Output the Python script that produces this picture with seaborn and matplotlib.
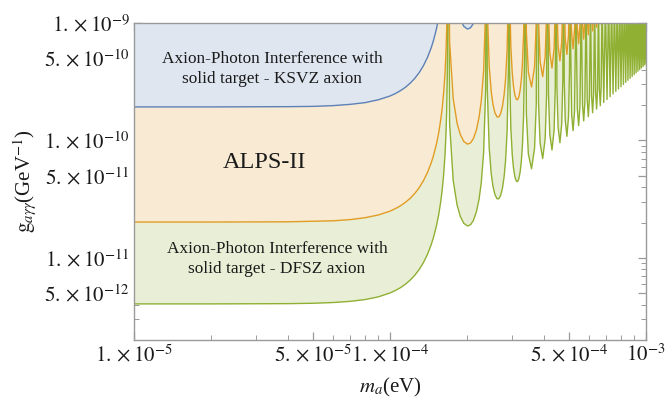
import matplotlib
matplotlib.use('Agg')
import matplotlib.pyplot as plt
from matplotlib.ticker import FixedLocator, FixedFormatter, LogLocator, NullFormatter
import seaborn as sns

# axion mass grid (eV), shared by the three curves
mass_ev = [
    # flat part and first rise
    1.0e-5, 2.0e-5, 4.0e-5, 5.0e-5, 6.0e-5, 7.0e-5, 8.0e-5, 9.0e-5, 1.0e-4, 1.05e-4,
    1.1e-4, 1.15e-4, 1.2e-4, 1.25e-4, 1.3e-4, 1.35e-4, 1.4e-4, 1.45e-4, 1.48e-4, 1.52e-4,
    1.55e-4, 1.58e-4, 1.6e-4, 1.62e-4, 1.64e-4, 1.655e-4, 1.665e-4, 1.675e-4, 1.684e-4,
    # lobe 1
    1.7091e-4, 1.7662e-4, 1.8293e-4, 1.8828e-4, 1.9421e-4, 2.0067e-4, 2.0625e-4,
    2.1168e-4, 2.1762e-4, 2.2277e-4, 2.2718e-4, 2.3212e-4, 2.3636e-4, 2.3815e-4,
    # lobe 2
    2.3993e-4, 2.4404e-4, 2.4864e-4, 2.5260e-4, 2.5705e-4, 2.6197e-4, 2.6626e-4,
    2.7049e-4, 2.7517e-4, 2.7926e-4, 2.8279e-4, 2.8678e-4, 2.9021e-4, 2.9168e-4,
    # lobe 3
    2.9313e-4, 2.9650e-4, 3.0030e-4, 3.0359e-4, 3.0730e-4, 3.1143e-4, 3.1505e-4,
    3.1863e-4, 3.2261e-4, 3.2611e-4, 3.2913e-4, 3.3256e-4, 3.3554e-4, 3.3680e-4,
    # lobes 4 - 8
    3.4099e-4, 3.4716e-4, 3.5723e-4, 3.6702e-4, 3.7277e-4, 3.7655e-4,
    3.8030e-4, 3.8585e-4, 3.9493e-4, 4.0381e-4, 4.0904e-4, 4.1249e-4,
    4.1592e-4, 4.2100e-4, 4.2934e-4, 4.3752e-4, 4.4235e-4, 4.4554e-4,
    4.4872e-4, 4.5343e-4, 4.6118e-4, 4.6881e-4, 4.7332e-4, 4.7631e-4,
    4.7928e-4, 4.8369e-4, 4.9097e-4, 4.9813e-4, 5.0239e-4, 5.0520e-4,
    # lobes 9 - 15
    5.1217e-4, 5.1904e-4, 5.2583e-4, 5.3253e-4,
    5.3914e-4, 5.4568e-4, 5.5214e-4, 5.5852e-4,
    5.6483e-4, 5.7107e-4, 5.7725e-4, 5.8335e-4,
    5.8940e-4, 5.9538e-4, 6.0131e-4, 6.0717e-4,
    6.1298e-4, 6.1874e-4, 6.2444e-4, 6.3010e-4,
    6.3570e-4, 6.4125e-4, 6.4675e-4, 6.5221e-4,
    6.5762e-4, 6.6299e-4, 6.6832e-4, 6.7360e-4,
    # lobes 16 - 35 (dip, cusp)
    6.8404e-4, 6.9433e-4, 7.0447e-4, 7.1446e-4, 7.2432e-4, 7.3404e-4, 7.4363e-4, 7.5311e-4,
    7.6246e-4, 7.7171e-4, 7.8084e-4, 7.8987e-4, 7.9879e-4, 8.0762e-4, 8.1635e-4, 8.2499e-4,
    8.3354e-4, 8.4200e-4, 8.5038e-4, 8.5868e-4, 8.6689e-4, 8.7503e-4, 8.8310e-4, 8.9109e-4,
    8.9901e-4, 9.0686e-4, 9.1465e-4, 9.2237e-4, 9.3002e-4, 9.3761e-4, 9.4514e-4, 9.5261e-4,
    9.6003e-4, 9.6738e-4, 9.7469e-4, 9.8193e-4, 9.8913e-4, 9.9627e-4, 1.0034e-3,
]

# DFSZ axion, solid target (green)
g_green = [
    4.06e-12, 4.06e-12, 4.08e-12, 4.11e-12, 4.17e-12, 4.27e-12, 4.42e-12, 4.66e-12, 5.03e-12, 5.28e-12,
    5.59e-12, 5.98e-12, 6.48e-12, 7.12e-12, 7.96e-12, 9.10e-12, 1.068e-11, 1.303e-11, 1.503e-11, 1.890e-11,
    2.339e-11, 3.057e-11, 3.827e-11, 5.083e-11, 7.497e-11, 1.150e-10, 1.770e-10, 3.762e-10, 5e-8,
    1.396e-10, 4.540e-11, 2.809e-11, 2.255e-11, 1.971e-11, 1.870e-11, 1.913e-11,
    2.081e-11, 2.475e-11, 3.157e-11, 4.332e-11, 7.842e-11, 2.670e-10, 5e-8,
    2.751e-10, 8.668e-11, 5.189e-11, 4.059e-11, 3.453e-11, 3.187e-11, 3.189e-11,
    3.398e-11, 3.957e-11, 4.961e-11, 6.713e-11, 1.197e-10, 4.025e-10, 5e-8,
    4.107e-10, 1.280e-10, 7.569e-11, 5.862e-11, 4.935e-11, 4.504e-11, 4.464e-11,
    4.714e-11, 5.438e-11, 6.764e-11, 9.093e-11, 1.610e-10, 5.381e-10, 5e-8,
    1.692e-10, 7.666e-11, 5.740e-11, 8.568e-11, 2.022e-10, 5e-8,
    2.105e-10, 9.470e-11, 7.015e-11, 1.037e-10, 2.435e-10, 5e-8,
    2.518e-10, 1.127e-10, 8.291e-11, 1.218e-10, 2.848e-10, 5e-8,
    2.931e-10, 1.308e-10, 9.566e-11, 1.398e-10, 3.261e-10, 5e-8,
    3.343e-10, 1.488e-10, 1.084e-10, 1.578e-10, 3.673e-10, 1.5e-9,
    1.669e-10, 1.212e-10, 1.759e-10, 1.5e-9,
    1.849e-10, 1.339e-10, 1.939e-10, 1.5e-9,
    2.029e-10, 1.467e-10, 2.120e-10, 1.5e-9,
    2.210e-10, 1.594e-10, 2.300e-10, 1.5e-9,
    2.390e-10, 1.722e-10, 2.480e-10, 1.5e-9,
    2.570e-10, 1.849e-10, 2.661e-10, 1.5e-9,
    2.751e-10, 1.977e-10, 2.841e-10, 1.5e-9,
    2.105e-10, 1.5e-9, 2.232e-10, 1.5e-9, 2.360e-10, 1.5e-9, 2.487e-10, 1.5e-9,
    2.615e-10, 1.5e-9, 2.742e-10, 1.5e-9, 2.870e-10, 1.5e-9, 2.997e-10, 1.5e-9,
    3.125e-10, 1.5e-9, 3.253e-10, 1.5e-9, 3.380e-10, 1.5e-9, 3.508e-10, 1.5e-9,
    3.635e-10, 1.5e-9, 3.763e-10, 1.5e-9, 3.890e-10, 1.5e-9, 4.018e-10, 1.5e-9,
    4.145e-10, 1.5e-9, 4.273e-10, 1.5e-9, 4.400e-10, 1.5e-9, 4.528e-10,
]

# ALPS-II (orange)
g_orange = [
    2.02e-11, 2.02e-11, 2.03e-11, 2.05e-11, 2.07e-11, 2.12e-11, 2.20e-11, 2.32e-11, 2.50e-11, 2.63e-11,
    2.78e-11, 2.98e-11, 3.22e-11, 3.54e-11, 3.96e-11, 4.53e-11, 5.32e-11, 6.48e-11, 7.48e-11, 9.40e-11,
    1.164e-10, 1.521e-10, 1.904e-10, 2.529e-10, 3.730e-10, 5.721e-10, 8.805e-10, 1.872e-9, 5e-8,
    6.945e-10, 2.259e-10, 1.398e-10, 1.122e-10, 9.806e-11, 9.304e-11, 9.519e-11,
    1.035e-10, 1.231e-10, 1.571e-10, 2.156e-10, 3.902e-10, 1.328e-9, 5e-8,
    1.369e-9, 4.313e-10, 2.582e-10, 2.019e-10, 1.718e-10, 1.586e-10, 1.587e-10,
    1.690e-10, 1.969e-10, 2.468e-10, 3.340e-10, 5.955e-10, 2.003e-9, 5e-8,
    2.043e-9, 6.366e-10, 3.766e-10, 2.917e-10, 2.455e-10, 2.241e-10, 2.221e-10,
    2.346e-10, 2.706e-10, 3.366e-10, 4.524e-10, 8.009e-10, 2.677e-9, 5e-8,
    8.420e-10, 3.814e-10, 2.856e-10, 4.263e-10, 1.006e-9, 5e-8,
    1.047e-9, 4.712e-10, 3.490e-10, 5.160e-10, 1.212e-9, 5e-8,
    1.253e-9, 5.609e-10, 4.125e-10, 6.058e-10, 1.417e-9, 5e-8,
    1.458e-9, 6.507e-10, 4.760e-10, 6.955e-10, 1.622e-9, 5e-8,
    1.663e-9, 7.404e-10, 5.394e-10, 7.853e-10, 1.828e-9, 1.5e-9,
    8.302e-10, 6.029e-10, 8.750e-10, 1.5e-9,
    9.199e-10, 6.663e-10, 9.648e-10, 1.5e-9,
    1.010e-9, 7.298e-10, 1.055e-9, 1.5e-9,
    1.099e-9, 7.933e-10, 1.144e-9, 1.5e-9,
    1.189e-9, 8.567e-10, 1.234e-9, 1.5e-9,
    1.279e-9, 9.202e-10, 1.324e-9, 1.5e-9,
    1.369e-9, 9.836e-10, 1.413e-9, 1.5e-9,
]

# KSVZ axion, solid target (blue)
g_blue = [
    1.93e-10, 1.93e-10, 1.94e-10, 1.95e-10, 1.98e-10, 2.03e-10, 2.10e-10, 2.22e-10, 2.39e-10, 2.51e-10,
    2.66e-10, 2.84e-10, 3.08e-10, 3.38e-10, 3.78e-10, 4.32e-10, 5.08e-10, 6.19e-10, 7.14e-10, 8.98e-10,
    1.112e-9, 1.453e-9, 1.819e-9, 2.417e-9, 3.564e-9, 5.466e-9, 8.41e-9, 1.789e-8, 5e-8,
    6.636e-9, 2.158e-9, 1.335e-9, 1.072e-9, 9.369e-10, 8.889e-10, 9.095e-10,
    9.891e-10, 1.176e-9, 1.501e-9, 2.060e-9, 3.728e-9, 1.269e-8, 5e-8,
]

x_ticks = [1e-5, 5e-5, 1e-4, 5e-4, 1e-3]
x_tick_labels = [r'$1.\times10^{-5}$', r'$5.\times10^{-5}$', r'$1.\times10^{-4}$',
                 r'$5.\times10^{-4}$', r'$10^{-3}$']
y_ticks = [5e-12, 1e-11, 5e-11, 1e-10, 5e-10, 1e-9]
y_tick_labels = [r'$5.\times10^{-12}$', r'$1.\times10^{-11}$', r'$5.\times10^{-11}$',
                 r'$1.\times10^{-10}$', r'$5.\times10^{-10}$', r'$1.\times10^{-9}$']

sns.set_theme(style='ticks')
plt.rcParams['font.family'] = ['Liberation Serif']
plt.rcParams['mathtext.fontset'] = 'stix'

fig = plt.figure(figsize=(6.65, 3.98), dpi=100)
ax = fig.add_axes([0.2015, 0.1457, 0.7699, 0.7965])
ax.set_xscale('log')
ax.set_yscale('log')

y_top = 1e-9
curves = [
    (g_green, '#e9efd6', '#8fb032'),
    (g_orange, '#f9ebd3', '#e19c24'),
    (g_blue, '#dfe6f0', '#5e81b5'),
]
# each region is shaded from its curve up to the top of the frame
for g, fill_c, line_c in curves:
    m = mass_ev[:len(g)]
    ax.fill_between(m, g, y_top, color=fill_c, lw=0)
for g, fill_c, line_c in curves:
    m = mass_ev[:len(g)]
    sns.lineplot(x=m, y=g, color=line_c, linewidth=1.0, sort=False, ax=ax)

ax.set_xlim(1e-5, 1e-3)
ax.set_ylim(2e-12, 1e-9)

ax.xaxis.set_major_locator(FixedLocator(x_ticks))
ax.xaxis.set_major_formatter(FixedFormatter(x_tick_labels))
ax.xaxis.set_minor_locator(LogLocator(base=10, subs=(2, 3, 4, 6, 7, 8, 9), numticks=50))
ax.xaxis.set_minor_formatter(NullFormatter())
ax.yaxis.set_major_locator(FixedLocator(y_ticks))
ax.yaxis.set_major_formatter(FixedFormatter(y_tick_labels))
ax.yaxis.set_minor_locator(LogLocator(base=10, subs=(2, 3, 4, 6, 7, 8, 9), numticks=50))
ax.yaxis.set_minor_formatter(NullFormatter())

ax.tick_params(which='both', direction='in', top=True, right=True,
               color='#9a9a9a', labelcolor='#1a1a1a', labelsize=15, pad=3)
ax.tick_params(which='major', length=6, width=0.9)
ax.tick_params(which='minor', length=3.5, width=0.7)
for s in ax.spines.values():
    s.set_color('#9a9a9a')
    s.set_linewidth(1.0)

ax.set_xlabel(r'$m_a$(eV)', fontsize=15, color='#1a1a1a')
ax.xaxis.set_label_coords(0.5, -0.151)
ax.xaxis.label.set_va('center')
ax.set_ylabel(r'$\mathrm{g}_{a\gamma\gamma}$(GeV$^{-1}$)', fontsize=15, color='#1a1a1a')
ax.yaxis.set_label_coords(-0.213, 0.5)
ax.yaxis.label.set_va('center')

ax.text(3.46e-5, 4.06e-10, 'Axion-Photon Interference with\nsolid target - KSVZ axion',
        ha='center', va='center', fontsize=12.4, color='#1a1a1a', linespacing=1.4)
ax.text(3.22e-5, 6.44e-11, 'ALPS-II', ha='center', va='center', fontsize=17.5, color='#1a1a1a')
ax.text(3.62e-5, 9.8e-12, 'Axion-Photon Interference with\nsolid target - DFSZ axion',
        ha='center', va='center', fontsize=12.4, color='#1a1a1a', linespacing=1.4)

fig.savefig('out.png', dpi=100)
